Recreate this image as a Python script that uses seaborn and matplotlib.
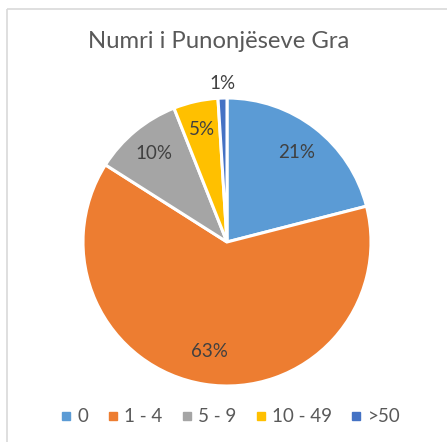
import numpy as np
import matplotlib
matplotlib.use("Agg")
import matplotlib.pyplot as plt
import seaborn as sns
from matplotlib.patches import Rectangle

sns.set_theme(style="white")
plt.rcParams['font.family'] = ['Lato', 'DejaVu Sans']

title = "Numri i Punonjëseve Gra"
categories = ["0", "1 - 4", "5 - 9", "10 - 49", ">50"]
values = [21, 63, 10, 5, 1]
pct_labels = ["21%", "63%", "10%", "5%", "1%"]
colors = ["#5B9BD5", "#ED7D31", "#A5A5A5", "#FFC000", "#4472C4"]
label_dist = [0.79, 0.77, 0.80, 0.80, 1.10]

W, H = 447, 442
fig = plt.figure(figsize=(W / 100, H / 100), dpi=100)
ax = fig.add_axes([0, 0, 1, 1])

cx, cy, r = 227, 242, 144
wedges, _ = ax.pie(values, colors=colors, startangle=-90, counterclock=True,
                   center=(cx, cy), radius=r,
                   wedgeprops=dict(edgecolor="white", linewidth=2.2))
# y axis inverted -> counterclock in data means clockwise on screen

ax.set_xlim(0, W)
ax.set_ylim(H, 0)
ax.set_aspect('equal')
ax.axis('off')

# chart frame
ax.add_patch(Rectangle((6.5, 8.5), W + 10, H + 10, fill=False,
                       edgecolor="#D9D9D9", linewidth=1.2))

for w, lab, d in zip(wedges, pct_labels, label_dist):
    ang = np.deg2rad((w.theta1 + w.theta2) / 2)
    x = cx + d * r * np.cos(ang)
    y = cy + d * r * np.sin(ang)
    ax.text(x, y, lab, ha='center', va='center', fontsize=13.5, color="#404040")

ax.text(219, 41, title, ha='center', va='center', fontsize=17.2,
        color="#595959")

handles = [plt.Line2D([], [], marker='s', linestyle='', markersize=6,
                      markerfacecolor=c, markeredgecolor=c) for c in colors]
leg = fig.legend(handles, categories, loc='center', bbox_to_anchor=(231 / W, 1 - 417 / H),
                 ncol=5, frameon=False, fontsize=13.5, handlelength=0.5,
                 handletextpad=0.35, columnspacing=1.05)
for t in leg.get_texts():
    t.set_color("#595959")

fig.savefig("out.png", dpi=100)
